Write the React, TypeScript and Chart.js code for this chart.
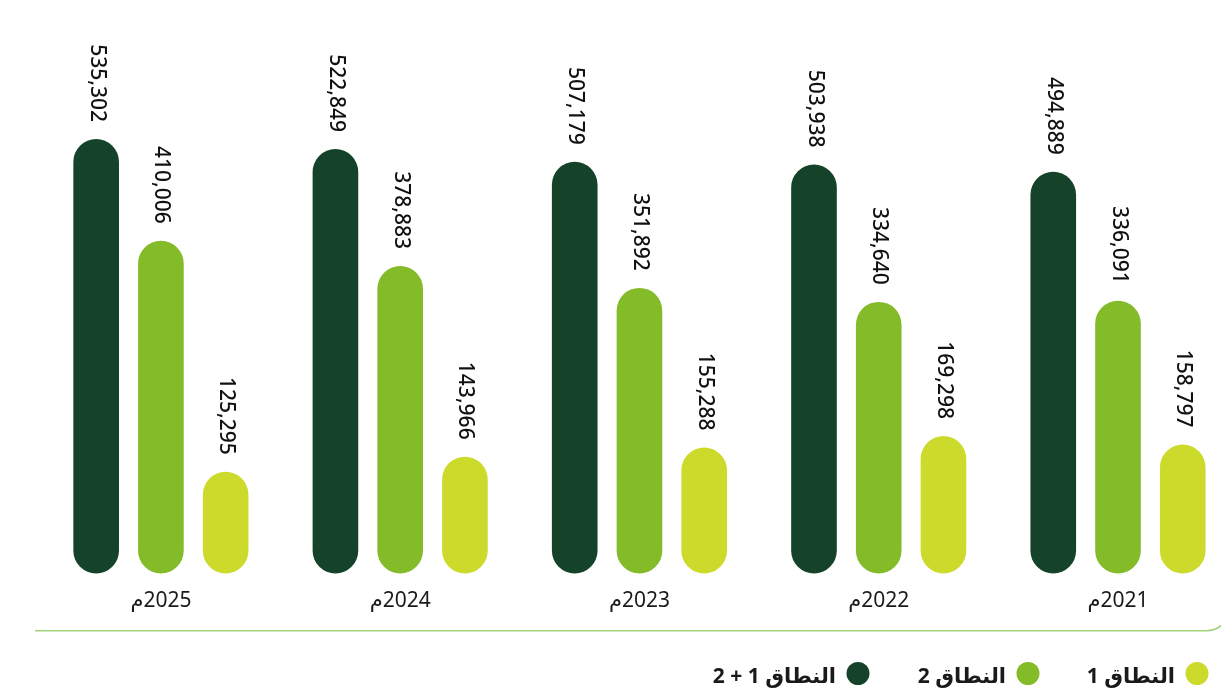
import React, { useEffect, useRef } from "react";
import { Chart, registerables } from "chart.js";

Chart.register(...registerables);

// Years, left to right
const years = ["2025م", "2024م", "2023م", "2022م", "2021م"];

// Emissions per scope (same year order)
const scope12 = [535302, 522849, 507179, 503938, 494889];
const scope2 = [410006, 378883, 351892, 334640, 336091];
const scope1 = [125295, 143966, 155288, 169298, 158797];

const seriesNames = ["النطاق 1 + 2", "النطاق 2", "النطاق 1"];
const seriesColors = ["#15432a", "#84bb29", "#ccdb2b"];

const FONT = '"Noto Sans", "DejaVu Sans", sans-serif';

const fmt = (v: number) => v.toLocaleString("en-US");

const decorPlugin = {
  id: "decor",
  afterDatasetsDraw(chart: any) {
    const ctx = chart.ctx as CanvasRenderingContext2D;
    const xScale = chart.scales.x;
    const area = chart.chartArea;

    // Rotated value labels above each bar
    ctx.save();
    ctx.fillStyle = "#111111";
    ctx.font = `500 21px ${FONT}`;
    ctx.direction = "ltr";
    chart.data.datasets.forEach((ds: any, di: number) => {
      const meta = chart.getDatasetMeta(di);
      meta.data.forEach((bar: any, i: number) => {
        const v = ds.data[i] as number;
        ctx.save();
        ctx.translate(bar.x + 0.5, bar.y - 17);
        ctx.rotate(Math.PI / 2);
        ctx.textAlign = "right";
        ctx.textBaseline = "middle";
        ctx.fillText(fmt(v), 0, 0);
        ctx.restore();
      });
    });
    ctx.restore();

    // Category labels under each group
    ctx.save();
    ctx.direction = "rtl";
    ctx.fillStyle = "#1a1a1a";
    ctx.font = `21px ${FONT}`;
    ctx.textAlign = "center";
    ctx.textBaseline = "alphabetic";
    years.forEach((y, i) => {
      ctx.fillText(y, xScale.getPixelForValue(i), area.bottom + 33);
    });
    ctx.restore();

    // Baseline rule with rounded right end
    ctx.save();
    ctx.strokeStyle = "#9fd27b";
    ctx.lineWidth = 1.6;
    ctx.beginPath();
    const ly = 630.7;
    ctx.moveTo(35, ly);
    ctx.lineTo(1206, ly);
    ctx.quadraticCurveTo(1216, ly, 1222, ly - 6);
    ctx.stroke();
    ctx.restore();

    // Legend, right to left
    ctx.save();
    ctx.direction = "rtl";
    ctx.font = `bold 21px ${FONT}`;
    ctx.textAlign = "right";
    ctx.textBaseline = "alphabetic";
    const legendItems = [
      { idx: 2, cx: 1197 },
      { idx: 1, cx: 1028 },
      { idx: 0, cx: 858 },
    ];
    legendItems.forEach(({ idx, cx }) => {
      ctx.fillStyle = seriesColors[idx];
      ctx.beginPath();
      ctx.arc(cx, 673.5, 11.5, 0, Math.PI * 2);
      ctx.fill();
      ctx.fillStyle = "#1a1a1a";
      ctx.fillText(seriesNames[idx], cx - 22, 683);
    });
    ctx.restore();
  },
};

export default function App() {
  const canvasRef = useRef<HTMLCanvasElement | null>(null);

  useEffect(() => {
    if (!canvasRef.current) return;
    const seriesData = [scope12, scope2, scope1];
    const chart = new Chart(canvasRef.current, {
      type: "bar",
      data: {
        labels: years,
        datasets: seriesData.map((d, i) => ({
          label: seriesNames[i],
          data: d,
          backgroundColor: seriesColors[i],
          borderRadius: 100,
          borderSkipped: false,
          clip: false as any,
        })),
      },
      options: {
        responsive: true,
        maintainAspectRatio: false,
        animation: false,
        categoryPercentage: 0.8117,
        barPercentage: 0.705,
        layout: {
          padding: { left: 160.9, right: 103, top: 86.5, bottom: 114.5 },
        },
        plugins: {
          legend: { display: false },
          tooltip: { enabled: false },
        },
        scales: {
          x: {
            display: false,
            offset: false,
          },
          y: {
            display: false,
            min: 0,
            max: 600000,
          },
        },
      },
      plugins: [decorPlugin],
    });
    return () => chart.destroy();
  }, []);

  return (
    <div
      style={{
        position: "fixed",
        left: 0,
        top: 0,
        width: 1221,
        height: 688,
        background: "#ffffff",
      }}
    >
      <canvas ref={canvasRef} />
    </div>
  );
}
